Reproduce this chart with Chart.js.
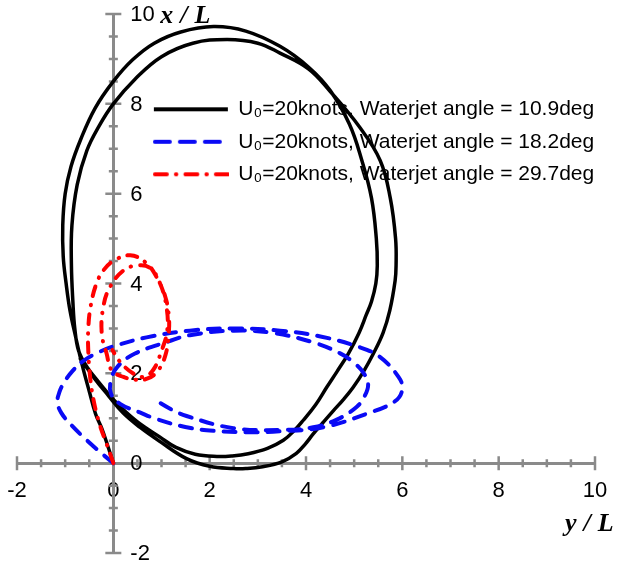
<!DOCTYPE html>
<html>
<head>
<meta charset="utf-8">
<script src="https://cdn.jsdelivr.net/npm/chart.js@4/dist/chart.umd.min.js"></script>
<style>
  html, body { margin: 0; padding: 0; background: #fff; }
  #wrap { width: 619px; height: 562px; }
</style>
</head>
<body>
<div id="wrap"><canvas id="turning" width="619" height="562"></canvas></div>
<script>
// Tick labels shown on both axes
const tickLabels = [-2, 0, 2, 4, 6, 8, 10];

// Legend text for each run
const seriesNames = [
  'U\u2080=20knots, Waterjet angle = 10.9deg',
  'U\u2080=20knots, Waterjet angle = 18.2deg',
  'U\u2080=20knots, Waterjet angle = 29.7deg'
];

// Waterjet angle 10.9 deg: lateral (y/L) and forward (x/L) position along the track
const jet109_yL = [0, -0.12, -0.25, -0.37, -0.5, -0.65, -0.78, -0.9, -0.98, -1.04, -1.05, -1.0, -0.88, -0.68, -0.38,
  0, 0.4, 0.85, 1.4, 2.08, 2.75, 3.46, 4.05, 4.5, 4.9, 5.16, 5.36, 5.46, 5.48, 5.45, 5.36, 5.25, 5.1, 4.88, 4.65,
  4.43, 4.2, 3.94, 3.75, 3.53, 3.2, 2.8, 2.45, 2.15, 1.7, 1.3, 0.97, 0.55, 0.25, 0, -0.3, -0.55, -0.72, -0.8, -0.84,
  -0.87, -0.86, -0.75, -0.55, -0.3, 0, 0.45, 1.0, 1.65, 2.36, 3.0, 3.46, 4.05, 4.5, 5.1, 5.54, 5.75, 5.86, 5.87,
  5.85, 5.74, 5.6, 5.4, 5.2, 4.98, 4.78, 4.57, 4.35, 4.15, 3.98, 3.8, 3.5, 3.1, 2.75, 2.49, 2.0, 1.52, 0.97, 0.55,
  0.2, -0.1, -0.4, -0.7];
const jet109_xL = [0, 0.4, 0.8, 1.1, 1.6, 2.2, 2.8, 3.4, 4.0, 4.6, 5.3, 6.0, 6.6, 7.2, 7.9,
  8.5, 8.98, 9.35, 9.6, 9.72, 9.62, 9.28, 8.82, 8.3, 7.55, 6.74, 5.9, 5.0, 4.4, 4.0, 3.6, 3.3, 2.9, 2.44, 2.05,
  1.69, 1.3, 0.95, 0.72, 0.51, 0.33, 0.21, 0.16, 0.15, 0.2, 0.35, 0.58, 0.88, 1.15, 1.42, 1.8, 2.15, 2.5, 3.0, 3.6,
  4.4, 5.29, 6.2, 6.96, 7.5, 8.0, 8.55, 9.05, 9.35, 9.43, 9.35, 9.13, 8.78, 8.28, 7.5, 6.74, 5.9, 5.0, 4.4,
  4.06, 3.4, 2.9, 2.44, 2.05, 1.69, 1.42, 1.17, 0.9, 0.65, 0.42, 0.22, 0.03, -0.08, -0.12, -0.12, -0.07, 0.1, 0.48,
  0.8, 1.12, 1.5, 1.9, 2.35];

// Waterjet angle 18.2 deg
const jet182_yL = [0, -0.3, -0.62, -0.9, -1.08, -1.16, -1.12, -1.02, -0.85, -0.62, -0.3, 0, 0.69, 1.59, 2.5, 3.46,
  4.3, 5.12, 5.54, 5.92, 6.0, 5.85, 5.26, 4.36, 3.46, 2.77, 2.08, 1.52, 0.9, 0.55, 0.14, -0.05, -0.05, 0.08, 0.45,
  1.15, 1.59, 2.5, 3.3, 4.15, 4.7, 4.98, 5.2, 5.29, 5.22, 5.05, 4.64, 4.15, 3.46, 2.49, 1.52, 1.2, 0.85];
const jet182_xL = [0, 0.27, 0.58, 0.88, 1.12, 1.35, 1.58, 1.8, 2.05, 2.28, 2.47, 2.6, 2.8, 2.95, 3.0, 2.95,
  2.82, 2.58, 2.36, 1.92, 1.65, 1.38, 1.10, 0.80, 0.71, 0.69, 0.72, 0.8, 0.98, 1.13, 1.32, 1.55, 1.84, 2.14, 2.44,
  2.71, 2.85, 2.95, 2.9, 2.69, 2.45, 2.25, 2.0, 1.75, 1.5, 1.25, 0.97, 0.8, 0.74, 0.78, 1.05, 1.2, 1.42];

// Waterjet angle 29.7 deg
const jet297_yL = [0, -0.14, -0.28, -0.4, -0.48, -0.52, -0.52, -0.47, -0.35, -0.2, 0, 0.35, 0.69, 0.92, 1.08, 1.15,
  1.15, 1.08, 0.92, 0.7, 0.45, 0.21, -0.03, -0.14, -0.24, -0.21, -0.07, 0.21, 0.49, 0.76, 0.97, 1.1, 1.12, 1.0,
  0.83, 0.62, 0.38, 0.12, -0.02];
const jet297_xL = [0, 0.43, 0.85, 1.35, 1.9, 2.5, 3.0, 3.5, 4.0, 4.3, 4.5, 4.63, 4.45, 4.1, 3.7, 3.3,
  2.88, 2.4, 2.05, 1.88, 1.86, 1.92, 2.06, 2.44, 2.88, 3.47, 3.92, 4.29, 4.4, 4.35, 4.0, 3.5, 2.96, 2.5,
  2.08, 1.92, 2.02, 2.28, 2.52];

const AXIS_GREY = '#8a8a8a';
const FONT = '"Liberation Sans", Arial, sans-serif';

// Stroke style per run: dash pattern on the plot and a slightly longer one in the key
const lineStyles = [
  { color: '#000000', width: 3.5, dash: [], keyDash: [], cap: 'butt' },
  { color: '#0a0af5', width: 4, dash: [12, 10], keyDash: [15, 10], cap: 'round' },
  { color: '#ff0000', width: 4, dash: [10, 9, 0.5, 9], keyDash: [12, 9, 0.5, 9], cap: 'round' }
];

function track(yL, xL) {
  return yL.map((v, i) => ({ x: v, y: xL[i] }));
}

// Small line sample used as the legend symbol, so dashes show in the key
function legendSample(style) {
  const c = document.createElement('canvas');
  c.width = 76; c.height = 8;
  const g = c.getContext('2d');
  g.strokeStyle = style.color;
  g.lineWidth = 4;
  g.lineCap = style.cap;
  g.setLineDash(style.keyDash);
  g.beginPath();
  g.moveTo(style.cap === 'round' ? 2 : 1, 4);
  g.lineTo(75, 4);
  g.stroke();
  return c;
}
const samples = lineStyles.map(legendSample);

// Axis cross: tick marks through both axes, y labels right of the vertical axis, axis titles
const axisCross = {
  id: 'axisCross',
  beforeDatasetsDraw(chart) {
    const { ctx, scales: { x, y } } = chart;
    const x0 = x.getPixelForValue(0);
    const y0 = y.getPixelForValue(0);
    ctx.save();
    ctx.strokeStyle = AXIS_GREY;
    ctx.lineWidth = 2.5;
    ctx.beginPath();
    x.ticks.forEach(t => {
      const p = x.getPixelForValue(t.value);
      const h = tickLabels.includes(t.value) ? 7 : 4;
      ctx.moveTo(p, y0 - h); ctx.lineTo(p, y0 + h);
    });
    y.ticks.forEach(t => {
      const p = y.getPixelForValue(t.value);
      const h = tickLabels.includes(t.value) ? 8 : 4.5;
      ctx.moveTo(x0 - h, p); ctx.lineTo(x0 + h, p);
    });
    ctx.stroke();

    ctx.fillStyle = '#000';
    ctx.font = '22px ' + FONT;
    ctx.textAlign = 'left';
    ctx.textBaseline = 'middle';
    tickLabels.forEach(v => {
      ctx.fillText(String(v), x0 + 17, y.getPixelForValue(v) + 1);
    });

    ctx.font = 'italic bold 26px "Liberation Serif", "Times New Roman", serif';
    ctx.textBaseline = 'alphabetic';
    ctx.letterSpacing = '7px';
    ctx.fillText('x/L', x0 + 47, y.getPixelForValue(10) + 9);
    ctx.fillText('y/L', x.getPixelForValue(10) - 30, y0 + 68);
    ctx.restore();
  }
};

// Legend sits inside the plotting area, to the right of the vertical axis
const legendSpot = {
  id: 'legendSpot',
  afterLayout(chart) {
    const lg = chart.legend;
    if (!lg) return;
    const x0 = chart.scales.x.getPixelForValue(0);
    const top10 = chart.scales.y.getPixelForValue(10);
    lg.left = x0 + 29;
    lg.top = top10 + 73.3;
    lg.width = 480;
    lg.height = 120;
    lg.right = lg.left + lg.width;
    lg.bottom = lg.top + lg.height;
  }
};

const sets = [[jet109_yL, jet109_xL], [jet182_yL, jet182_xL], [jet297_yL, jet297_xL]];

new Chart(document.getElementById('turning'), {
  type: 'scatter',
  data: {
    datasets: sets.map(([yL, xL], i) => ({
      label: seriesNames[i],
      data: track(yL, xL),
      showLine: true,
      borderColor: lineStyles[i].color,
      backgroundColor: lineStyles[i].color,
      borderWidth: lineStyles[i].width,
      borderDash: lineStyles[i].dash,
      borderCapStyle: lineStyles[i].cap,
      borderJoinStyle: 'round',
      pointRadius: 0,
      tension: 0.4,
      order: 3 - i
    }))
  },
  options: {
    responsive: false,
    animation: false,
    layout: { padding: { left: 17, right: 24, top: 14, bottom: 9 } },
    scales: {
      x: {
        type: 'linear', min: -2, max: 10,
        position: { y: 0 },
        grid: { display: false, drawTicks: true, tickLength: 15 },
        border: { display: true, color: AXIS_GREY, width: 3 },
        ticks: {
          stepSize: 0.5, autoSkip: false, maxRotation: 0, minRotation: 0,
          padding: 0, color: '#000', font: { family: FONT, size: 22 },
          callback: v => (tickLabels.includes(v) ? String(v) : '')
        }
      },
      y: {
        type: 'linear', min: -2, max: 10,
        position: { x: 0 },
        grid: { display: false, drawTicks: false },
        border: { display: true, color: AXIS_GREY, width: 3 },
        ticks: { stepSize: 0.5, display: false }
      }
    },
    plugins: {
      tooltip: { enabled: false },
      legend: {
        position: 'chartArea',
        align: 'start',
        labels: {
          usePointStyle: true,
          pointStyleWidth: 74,
          padding: 11.5,
          color: '#000',
          font: { family: FONT, size: 21 },
          sort: (a, b) => a.datasetIndex - b.datasetIndex,
          generateLabels: chart => Chart.defaults.plugins.legend.labels.generateLabels(chart)
            .map(item => Object.assign(item, { pointStyle: samples[item.datasetIndex] }))
        }
      }
    }
  },
  plugins: [axisCross, legendSpot]
});
</script>
</body>
</html>
